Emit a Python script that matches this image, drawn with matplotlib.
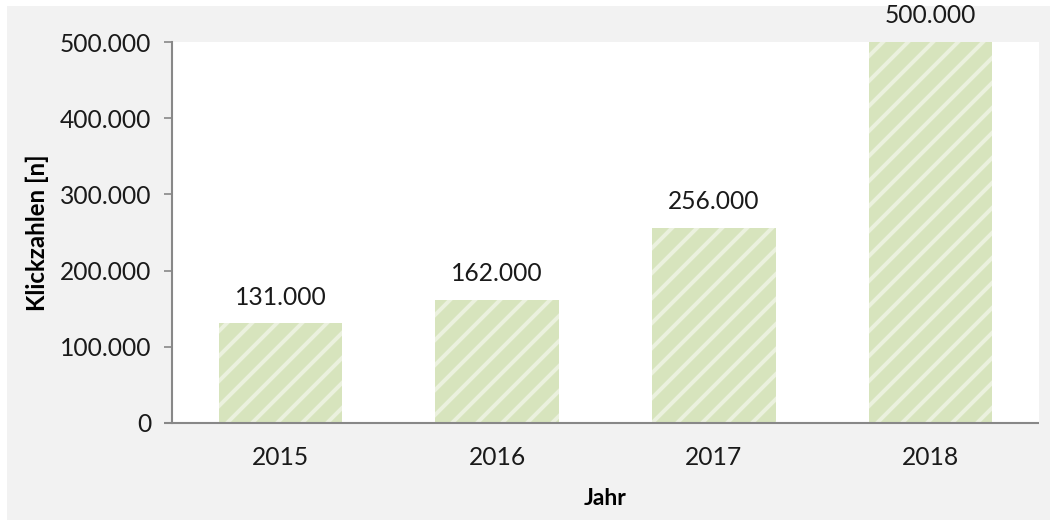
import matplotlib.pyplot as plt
from matplotlib.patches import Rectangle
from matplotlib.ticker import FuncFormatter

# data
years = ["2015", "2016", "2017", "2018"]
clicks = [131000, 162000, 256000, 500000]
y_ticks = [0, 100000, 200000, 300000, 400000, 500000]

plt.rcParams["font.family"] = ["Lato", "DejaVu Sans"]
plt.rcParams["hatch.linewidth"] = 1.9
plt.rcParams["hatch.color"] = "#ebf1de"


def de_fmt(v, pos=None):
    return f"{int(v):,}".replace(",", ".")


dpi = 150
fig = plt.figure(figsize=(1050 / dpi, 520 / dpi), dpi=dpi, facecolor="white")
fig.patches.append(Rectangle((7 / 1050, 0), 1, 1 - 6 / 520, transform=fig.transFigure,
                             facecolor="#f2f2f2", edgecolor="none", zorder=-1))

ax = fig.add_axes([172 / 1050, 1 - 423 / 520, (1039 - 172) / 1050, (423 - 42) / 520])
ax.set_facecolor("white")

x = range(len(years))
bars = ax.bar(x, clicks, width=0.57, color="#d7e4bd", edgecolor="#ebf1de",
              linewidth=0, hatch="//", zorder=2)

for xi, v in zip(x, clicks):
    ax.annotate(de_fmt(v), (xi, v), xytext=(0, 7), textcoords="offset points",
                ha="center", va="bottom", fontsize=11.8, color="#1a1a1a")

ax.set_xlim(-0.5, len(years) - 0.5)
ax.set_ylim(0, 500000)
ax.set_yticks(y_ticks)
ax.yaxis.set_major_formatter(FuncFormatter(de_fmt))
ax.set_xticks(list(x))
ax.set_xticklabels(years)

for s in ["top", "right"]:
    ax.spines[s].set_visible(False)
for s in ["left", "bottom"]:
    ax.spines[s].set_color("#888888")
    ax.spines[s].set_linewidth(1.0)
ax.spines["bottom"].set_bounds(-0.5 - 8 / 217, len(years) - 0.5)
ax.spines["bottom"].set_capstyle("butt")

ax.tick_params(axis="y", length=4, color="#888888", labelsize=11.8, labelcolor="#1a1a1a", pad=6)
ax.tick_params(axis="x", length=0, labelsize=11.8, labelcolor="#1a1a1a", pad=11)

ax.set_xlabel("Jahr", fontsize=11, fontweight="bold", labelpad=9)
ax.set_ylabel("Klickzahlen [n]", fontsize=11.5, fontweight="bold", labelpad=5)

fig.savefig("out.png", dpi=dpi)
